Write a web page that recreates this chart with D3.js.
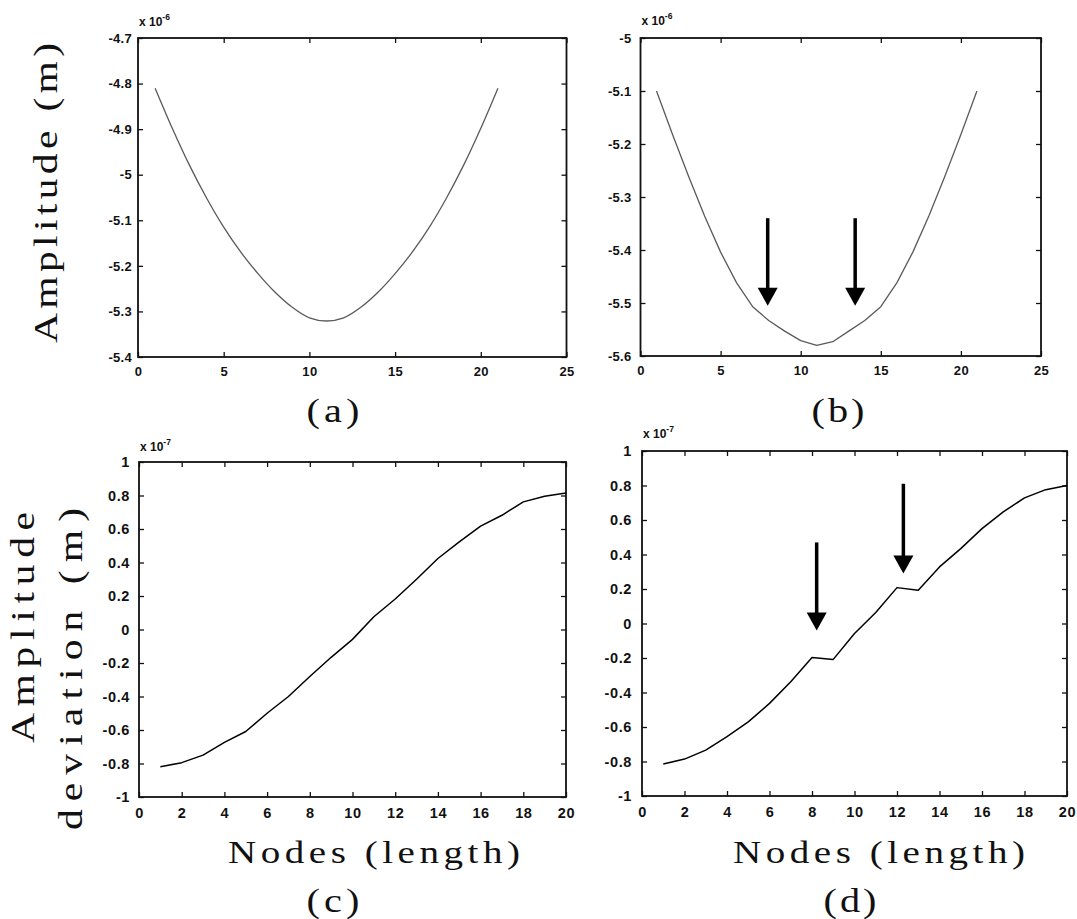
<!DOCTYPE html>
<html>
<head>
<meta charset="utf-8">
<script src="https://cdn.jsdelivr.net/npm/d3@7"></script>
<style>
  html, body { margin: 0; padding: 0; background: #fff; }
  svg { display: block; }
</style>
</head>
<body>
<svg id="chart" width="1077" height="919"></svg>
<script>
// ---------------- DATA ----------------
const nodesAB = [1,2,3,4,5,6,7,8,9,10,11,12,13,14,15,16,17,18,19,20,21];
const amplitudeA = [-4.81,-4.898,-4.979,-5.051,-5.115,-5.17,-5.217,-5.258,-5.291,-5.314,-5.321,
                    -5.314,-5.291,-5.258,-5.217,-5.17,-5.115,-5.051,-4.979,-4.898,-4.81];
const amplitudeB = [-5.1,-5.182,-5.261,-5.336,-5.404,-5.462,-5.507,-5.533,-5.553,-5.571,-5.58,
                    -5.573,-5.553,-5.533,-5.507,-5.462,-5.404,-5.336,-5.261,-5.182,-5.1];
const nodesCD = [1,2,3,4,5,6,7,8,9,10,11,12,13,14,15,16,17,18,19,20];
const deviationC = [-0.82,-0.795,-0.75,-0.674,-0.609,-0.50,-0.40,-0.281,-0.166,-0.059,
                    0.076,0.182,0.30,0.424,0.523,0.617,0.682,0.762,0.795,0.815];
const deviationD = [-0.815,-0.786,-0.734,-0.656,-0.57,-0.463,-0.338,-0.197,-0.208,-0.058,
                    0.064,0.208,0.193,0.328,0.434,0.55,0.647,0.728,0.776,0.80];

const xTicksAB = [0,5,10,15,20,25];
const yTicksA = [-5.4,-5.3,-5.2,-5.1,-5,-4.9,-4.8,-4.7];
const yTicksB = [-5.6,-5.5,-5.4,-5.3,-5.2,-5.1,-5];
const xTicksCD = [0,2,4,6,8,10,12,14,16,18,20];
const yTicksCD = [-1,-0.8,-0.6,-0.4,-0.2,0,0.2,0.4,0.6,0.8,1];

// arrow annotations (data units: x position, tail value, tip value)
const arrowsB = [{x:7.94, from:-5.34, to:-5.505},{x:13.4, from:-5.34, to:-5.505}];
const arrowsD = [{x:8.22, from:0.47, to:-0.04},{x:12.3, from:0.81, to:0.29}];

const exponentAB = "-6";
const exponentCD = "-7";

// ---------------- DRAW ----------------
const svg = d3.select("#chart");
const fmt = v => String(+v.toFixed(2));

function panel(cfg) {
  const x = d3.scaleLinear().domain(cfg.xDomain).range([cfg.left, cfg.right]);
  const y = d3.scaleLinear().domain(cfg.yDomain).range([cfg.bottom, cfg.top]);
  const g = svg.append("g");

  const tickFont = sel => sel.attr("font-size", null).selectAll("text")
      .attr("font-family", "'Liberation Sans', Arial, sans-serif")
      .attr("font-weight", "bold")
      .style("font-size", cfg.tickSize + "px")
      .attr("letter-spacing", cfg.tickSpacing)
      .attr("fill", "#111");

  const gb = g.append("g").attr("transform", `translate(0,${cfg.bottom})`)
    .call(d3.axisBottom(x).tickValues(cfg.xTicks).tickFormat(fmt).tickSizeInner(-5).tickSizeOuter(0).tickPadding(cfg.xPad));
  tickFont(gb);
  const gl = g.append("g").attr("transform", `translate(${cfg.left},0)`)
    .call(d3.axisLeft(y).tickValues(cfg.yTicks).tickFormat(fmt).tickSizeInner(-5).tickSizeOuter(0).tickPadding(cfg.yPad));
  tickFont(gl);
  g.append("g").attr("transform", `translate(0,${cfg.top})`)
    .call(d3.axisTop(x).tickValues(cfg.xTicks).tickFormat("").tickSizeInner(-5).tickSizeOuter(0));
  g.append("g").attr("transform", `translate(${cfg.right},0)`)
    .call(d3.axisRight(y).tickValues(cfg.yTicks).tickFormat("").tickSizeInner(-5).tickSizeOuter(0));
  g.selectAll(".domain").remove();
  g.selectAll(".tick line").attr("stroke", "#111").attr("stroke-width", 1.3);

  g.append("rect")
    .attr("x", cfg.left).attr("y", cfg.top)
    .attr("width", cfg.right - cfg.left).attr("height", cfg.bottom - cfg.top)
    .attr("fill", "none").attr("stroke", "#111").attr("stroke-width", 1.8);

  const line = d3.line().x((d, i) => x(cfg.xs[i])).y(d => y(d)).curve(cfg.curve);
  g.append("path").datum(cfg.ys)
    .attr("d", line)
    .attr("fill", "none")
    .attr("stroke", cfg.lineColor)
    .attr("stroke-width", cfg.lineWidth)
    .attr("stroke-linejoin", "round");

  const ex = g.append("text")
    .attr("x", cfg.left + 1).attr("y", cfg.top - cfg.expGap)
    .attr("font-family", "'Liberation Sans', Arial, sans-serif")
    .attr("font-weight", "bold")
    .attr("font-size", 12)
    .attr("fill", "#111")
    .text("x 10");
  ex.append("tspan").attr("font-size", 8.5).attr("dy", -6).text(cfg.exponent);

  (cfg.arrows || []).forEach(a => {
    const ax = x(a.x), y0 = y(a.from), y1 = y(a.to);
    const headH = 18, headW = 20;
    g.append("line")
      .attr("x1", ax).attr("x2", ax).attr("y1", y0).attr("y2", y1 - headH + 2)
      .attr("stroke", "#000").attr("stroke-width", 3.5);
    g.append("path")
      .attr("d", `M${ax - headW/2},${y1 - headH} L${ax + headW/2},${y1 - headH} L${ax},${y1} Z`)
      .attr("fill", "#000");
  });
}

panel({xDomain:[0,25], yDomain:[-5.4,-4.7], left:138, right:566.5, top:38, bottom:357,
       xTicks:xTicksAB, yTicks:yTicksA, xs:nodesAB, ys:amplitudeA, curve:d3.curveMonotoneX,
       lineColor:"#5a5a5a", lineWidth:1.3, tickSize:13, tickSpacing:0.3, xPad:10, yPad:6,
       exponent:exponentAB, expGap:12});
panel({xDomain:[0,25], yDomain:[-5.6,-5], left:640.5, right:1041, top:38, bottom:356,
       xTicks:xTicksAB, yTicks:yTicksB, xs:nodesAB, ys:amplitudeB, curve:d3.curveLinear,
       lineColor:"#5a5a5a", lineWidth:1.3, tickSize:13, tickSpacing:0.3, xPad:10, yPad:9,
       exponent:exponentAB, expGap:13, arrows:arrowsB});
panel({xDomain:[0,20], yDomain:[-1,1], left:139, right:566, top:462, bottom:797,
       xTicks:xTicksCD, yTicks:yTicksCD, xs:nodesCD, ys:deviationC, curve:d3.curveLinear,
       lineColor:"#000", lineWidth:1.5, tickSize:14.5, tickSpacing:0.6, xPad:11, yPad:9,
       exponent:exponentCD, expGap:11});
panel({xDomain:[0,20], yDomain:[-1,1], left:642, right:1067, top:451, bottom:796,
       xTicks:xTicksCD, yTicks:yTicksCD, xs:nodesCD, ys:deviationD, curve:d3.curveLinear,
       lineColor:"#000", lineWidth:1.5, tickSize:14.5, tickSpacing:0.6, xPad:11, yPad:10,
       exponent:exponentCD, expGap:13, arrows:arrowsD});

// ---------------- BIG LABELS ----------------
const SX = 1.22;
function bigText(txt, tx, ty, rot, len, anchor, size) {
  const t = svg.append("text")
    .attr("transform", `translate(${tx},${ty}) rotate(${rot}) scale(${SX},1)`)
    .attr("font-family", "'Liberation Serif', 'DejaVu Serif', serif")
    .attr("font-size", size)
    .attr("fill", "#111")
    .attr("text-anchor", anchor)
    .text(txt);
  if (len) t.attr("textLength", len / SX).attr("lengthAdjust", "spacing");
  return t;
}
bigText("Amplitude (m)", 57, 343, -90, 300, "start", 34);
bigText("Amplitude", 34, 743, -90, 231, "start", 34);
bigText("deviation (m)", 82, 830, -90, 322, "start", 34);
bigText("Nodes (length)", 228, 863, 0, 292, "start", 32);
bigText("Nodes (length)", 733, 863, 0, 292, "start", 32);
bigText("(a)", 333, 422, 0, 53, "middle", 33);
bigText("(b)", 838, 422, 0, 53, "middle", 33);
bigText("(c)", 333, 912, 0, 53, "middle", 33);
bigText("(d)", 850, 912, 0, 53, "middle", 33);
</script>
</body>
</html>
